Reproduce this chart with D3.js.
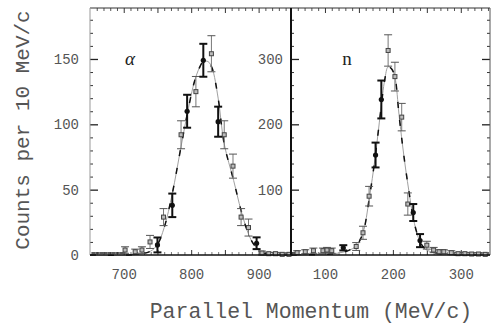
<!DOCTYPE html>
<html>
<head>
<meta charset="utf-8">
<script src="https://cdn.jsdelivr.net/npm/d3@7"></script>
<style>
  html, body { margin: 0; padding: 0; background: #fff; }
  svg { display: block; }
</style>
</head>
<body>
<svg id="chart" width="491" height="324"></svg>
<script>
// ---------------- DATA ----------------
// alpha panel (MeV/c, counts per 10 MeV/c)
const alphaFilledX   = [750, 772, 794, 818, 840, 897];
const alphaFilledY   = [7.7, 38, 110, 149, 102, 9];
const alphaFilledErr = [5.7, 9, 12.6, 12.6, 11.5, 4.5];

const alphaOpenX   = [702, 717, 727, 739, 759, 785, 807, 830, 849, 862, 874, 885, 905, 915, 925, 935, 945];
const alphaOpenY   = [3.8, 2.5, 3.8, 10, 29, 92, 125, 154, 92, 68, 29, 21, 1.5, 1, 1, 0.5, 0.5];
const alphaOpenErr = [2.5, 2, 2.5, 5, 6.5, 10.7, 11.6, 13.8, 10.7, 9.2, 6.5, 6.5, 1.5, 1, 1, 1, 1];

const alphaZeroX = [655, 661, 667, 673, 679, 685, 691, 697];

const alphaFitX = [650, 720, 740, 750, 760, 772, 785, 795, 805, 812, 818, 825, 831, 840, 849, 863, 874, 885, 893, 905, 920, 948];
const alphaFitY = [0, 0.5, 3, 8, 21, 47, 83, 110, 133, 143, 148, 148, 143, 120, 85, 57, 34, 16, 8, 2, 0.3, 0];

// neutron panel
const nFilledX   = [127, 174.5, 183, 230, 240];
const nFilledY   = [11, 153, 238, 65, 22];
const nFilledErr = [4, 19, 29, 13, 10];

const nOpenX   = [59, 71, 83, 97, 103, 110, 146, 156, 165, 193, 203, 213, 222, 250, 260, 268, 275, 286, 296, 306, 316, 326, 336];
const nOpenY   = [3.5, 5, 6.6, 6.6, 7.6, 6.6, 13, 34, 90, 313, 273, 211, 78, 15, 7.6, 5, 5, 3.5, 2, 2, 1.5, 1.5, 1];
const nOpenErr = [3, 3, 4, 4, 4, 4, 6, 10, 15, 24, 22, 21, 17, 6, 4, 3, 3, 3, 2, 2, 2, 2, 2];

const nZeroX = [53];

const nFitX = [50, 100, 120, 135, 146, 156, 165, 174, 182, 188, 193, 198, 203, 209, 214, 219, 224, 229, 235, 241, 248, 256, 270, 300, 343];
const nFitY = [0, 1, 3, 7, 14, 34, 85, 150, 220, 268, 288, 285, 272, 215, 170, 130, 95, 62, 35, 18, 9, 5, 2, 0.5, 0];

// ticks
const alphaXTicks = [700, 800, 900];
const nXTicks = [100, 200, 300];
const alphaYTicks = [0, 50, 100, 150];
const nYTicks = [100, 200, 300];

const xTitle = "Parallel Momentum (MeV/c)";
const yTitle = "Counts per 10 MeV/c";

// ---------------- LAYOUT ----------------
const svg = d3.select("#chart");
const yTop = 8, yBot = 255;
const xA = d3.scaleLinear().domain([650, 948]).range([90, 291]);
const xN = d3.scaleLinear().domain([50, 343]).range([291, 490]);
const yA = d3.scaleLinear().domain([0, 189]).range([yBot, yTop]);
const yN = d3.scaleLinear().domain([0, 378]).range([yBot, yTop]);

const mono = "'Liberation Mono', 'DejaVu Sans Mono', monospace";
const textColor = "#555";

function styleAxis(g, color, width) {
  g.select(".domain").remove();
  g.selectAll(".tick line").attr("stroke", color).attr("stroke-width", width);
  g.selectAll(".tick text").attr("fill", textColor).attr("font-family", mono).attr("font-size", 14);
}

function range(a, b, s) { return d3.range(a, b + 1e-9, s); }

function drawPanel(x, y, cfg) {
  const [x0, x1] = x.domain();
  const ymax = y.domain()[1];
  const minorX = range(Math.ceil(x0 / 10) * 10, x1, 10).filter(v => v % 50 !== 0);
  const medX = range(Math.ceil(x0 / 50) * 50, x1, 50).filter(v => v > x0 && v < x1);

  svg.append("g").attr("transform", `translate(0,${yBot})`)
    .call(d3.axisBottom(x).tickValues(minorX).tickSize(-3).tickFormat(""))
    .call(g => styleAxis(g, "#777", 1));
  svg.append("g").attr("transform", `translate(0,${yBot})`)
    .call(d3.axisBottom(x).tickValues(medX).tickSize(-5).tickFormat(""))
    .call(g => styleAxis(g, "#333", 1));
  svg.append("g").attr("transform", `translate(0,${yBot})`)
    .call(d3.axisBottom(x).tickValues(cfg.xTicks).tickSize(0).tickPadding(14).tickFormat(d3.format("d")))
    .call(g => styleAxis(g, "#333", 1));

  svg.append("g").attr("transform", `translate(0,${yTop})`)
    .call(d3.axisTop(x).tickValues(minorX).tickSize(-3).tickFormat(""))
    .call(g => styleAxis(g, "#555", 1));
  svg.append("g").attr("transform", `translate(0,${yTop})`)
    .call(d3.axisTop(x).tickValues(medX).tickSize(-5).tickFormat(""))
    .call(g => styleAxis(g, "#333", 1));

  const minorY = range(cfg.yMinor, ymax, cfg.yMinor).filter(v => v % cfg.yMajor !== 0);
  const majorY = range(cfg.yMajor, ymax, cfg.yMajor);
  const xl = x.range()[0];
  svg.append("g").attr("transform", `translate(${xl},0)`)
    .call(d3.axisLeft(y).tickValues(minorY).tickSize(-3).tickFormat(""))
    .call(g => styleAxis(g, "#333", 1));
  svg.append("g").attr("transform", `translate(${xl},0)`)
    .call(d3.axisLeft(y).tickValues(majorY).tickSize(-8).tickFormat(""))
    .call(g => styleAxis(g, "#222", 1.3));
  svg.append("g").attr("transform", `translate(${xl},0)`)
    .call(d3.axisLeft(y).tickValues(cfg.yTicks).tickSize(0).tickPadding(cfg.yPad).tickFormat(d3.format("d")))
    .call(g => styleAxis(g, "#222", 1));
  if (cfg.rightTicks) {
    const xr = x.range()[1];
    svg.append("g").attr("transform", `translate(${xr},0)`)
      .call(d3.axisRight(y).tickValues(minorY).tickSize(-3).tickFormat(""))
      .call(g => styleAxis(g, "#333", 1));
    svg.append("g").attr("transform", `translate(${xr},0)`)
      .call(d3.axisRight(y).tickValues(majorY).tickSize(-8).tickFormat(""))
      .call(g => styleAxis(g, "#222", 1.3));
  }

  const g = svg.append("g");
  const fit = cfg.fitX.map((v, i) => [v, cfg.fitY[i]]);
  const line = d3.line().x(d => x(d[0])).y(d => y(d[1])).curve(d3.curveCatmullRom);
  g.append("path").attr("d", line(fit)).attr("fill", "none").attr("stroke", "#a0a0a0").attr("stroke-width", 1);
  g.append("path").attr("d", line(fit)).attr("fill", "none").attr("stroke", "#111")
    .attr("stroke-width", 1.5).attr("stroke-dasharray", "6,12");

  g.selectAll(null).data(cfg.zeroX).join("line")
    .attr("x1", d => x(d) - 2).attr("x2", d => x(d) + 2)
    .attr("y1", y(0) - 2).attr("y2", y(0) - 2)
    .attr("stroke", "#222").attr("stroke-width", 1.5);

  const open = cfg.openX.map((v, i) => ({ x: v, y: cfg.openY[i], e: cfg.openErr[i] }));
  const og = g.selectAll(null).data(open).join("g");
  og.append("line").attr("x1", d => x(d.x)).attr("x2", d => x(d.x))
    .attr("y1", d => y(Math.min(d.y + d.e, ymax))).attr("y2", d => y(Math.max(d.y - d.e, 0)))
    .attr("stroke", "#777").attr("stroke-width", 1);
  og.append("line").attr("x1", d => x(d.x) - 4).attr("x2", d => x(d.x) + 4)
    .attr("y1", d => y(d.y + d.e)).attr("y2", d => y(d.y + d.e))
    .attr("stroke", "#555").attr("stroke-width", 1);
  og.append("line").attr("x1", d => x(d.x) - 4).attr("x2", d => x(d.x) + 4)
    .attr("y1", d => y(Math.max(d.y - d.e, 0))).attr("y2", d => y(Math.max(d.y - d.e, 0)))
    .attr("stroke", "#555").attr("stroke-width", 1);
  og.append("rect").attr("x", d => x(d.x) - 2).attr("y", d => y(d.y) - 2)
    .attr("width", 4).attr("height", 4)
    .attr("fill", "#bbb").attr("stroke", "#444").attr("stroke-width", 1);

  const filled = cfg.filledX.map((v, i) => ({ x: v, y: cfg.filledY[i], e: cfg.filledErr[i] }));
  const fg = g.selectAll(null).data(filled).join("g");
  fg.append("line").attr("x1", d => x(d.x)).attr("x2", d => x(d.x))
    .attr("y1", d => y(d.y + d.e)).attr("y2", d => y(Math.max(d.y - d.e, 0)))
    .attr("stroke", "#111").attr("stroke-width", 2);
  fg.append("line").attr("x1", d => x(d.x) - 4).attr("x2", d => x(d.x) + 4)
    .attr("y1", d => y(d.y + d.e)).attr("y2", d => y(d.y + d.e))
    .attr("stroke", "#111").attr("stroke-width", 2);
  fg.append("line").attr("x1", d => x(d.x) - 4).attr("x2", d => x(d.x) + 4)
    .attr("y1", d => y(Math.max(d.y - d.e, 0))).attr("y2", d => y(Math.max(d.y - d.e, 0)))
    .attr("stroke", "#111").attr("stroke-width", 2);
  fg.append("circle").attr("cx", d => x(d.x)).attr("cy", d => y(d.y)).attr("r", 2.6).attr("fill", "#111");

  svg.append("text").attr("x", cfg.labelX).attr("y", 65)
    .attr("font-family", "'Liberation Serif', 'DejaVu Serif', serif")
    .attr("font-style", cfg.italic ? "italic" : "normal")
    .attr("font-size", 19).attr("fill", "#222").attr("text-anchor", "middle")
    .text(cfg.label);
}

drawPanel(xA, yA, {
  xTicks: alphaXTicks, yTicks: alphaYTicks, yMinor: 10, yMajor: 50, yPad: 11,
  fitX: alphaFitX, fitY: alphaFitY, zeroX: alphaZeroX,
  openX: alphaOpenX, openY: alphaOpenY, openErr: alphaOpenErr,
  filledX: alphaFilledX, filledY: alphaFilledY, filledErr: alphaFilledErr,
  label: "\u03b1", labelX: 130, italic: true, rightTicks: false
});
drawPanel(xN, yN, {
  xTicks: nXTicks, yTicks: nYTicks, yMinor: 20, yMajor: 100, yPad: 8,
  fitX: nFitX, fitY: nFitY, zeroX: nZeroX,
  openX: nOpenX, openY: nOpenY, openErr: nOpenErr,
  filledX: nFilledX, filledY: nFilledY, filledErr: nFilledErr,
  label: "n", labelX: 347, italic: false, rightTicks: true
});

svg.append("line").attr("x1", 90).attr("x2", 490).attr("y1", yTop).attr("y2", yTop).attr("stroke", "#333").attr("stroke-width", 1);
svg.append("line").attr("x1", 90).attr("x2", 90).attr("y1", yTop).attr("y2", yBot).attr("stroke", "#999").attr("stroke-width", 1);
svg.append("line").attr("x1", 291).attr("x2", 291).attr("y1", yTop).attr("y2", yBot).attr("stroke", "#111").attr("stroke-width", 2);
svg.append("line").attr("x1", 490).attr("x2", 490).attr("y1", yTop).attr("y2", yBot).attr("stroke", "#555").attr("stroke-width", 1);
svg.append("line").attr("x1", 90).attr("x2", 490).attr("y1", yBot).attr("y2", yBot).attr("stroke", "#111").attr("stroke-width", 1.6);

svg.append("text").attr("x", 311).attr("y", 318)
  .attr("font-family", mono).attr("font-size", 21.5).attr("fill", textColor)
  .attr("text-anchor", "middle").text(xTitle);
svg.append("text").attr("transform", "translate(29,130) rotate(-90)")
  .attr("font-family", mono).attr("font-size", 21).attr("fill", textColor)
  .attr("text-anchor", "middle").text(yTitle);
</script>
</body>
</html>
